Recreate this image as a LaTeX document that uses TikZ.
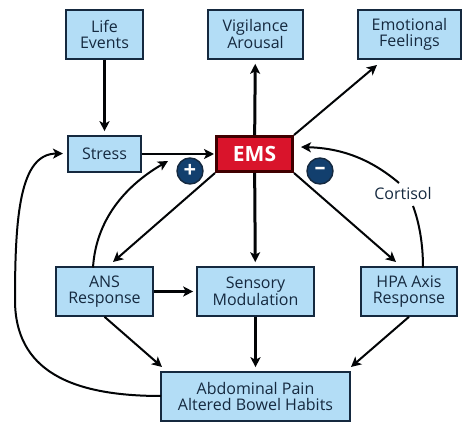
\documentclass[tikz,border=0pt]{standalone}
\usepackage{fontspec}
\setmainfont{Open Sans}
\usetikzlibrary{arrows.meta,calc}
\definecolor{boxblue}{HTML}{B3DDF6}
\definecolor{inkblue}{HTML}{15293F}
\definecolor{emsred}{HTML}{D9142B}
\definecolor{signblue}{HTML}{123F6E}
\tikzset{
  infobox/.style={draw=inkblue,line width=1.6pt,fill=boxblue,text=inkblue,align=center,inner sep=0pt,font=\fontsize{16}{15.5}\selectfont},
  arrowline/.style={draw=black!90!inkblue,line width=2pt,-{Stealth[length=10pt,width=10pt,inset=2.5pt]}},
  thickarrow/.style={arrowline,line width=3pt},
  plainline/.style={draw=black!90!inkblue,line width=2pt},
  signdot/.style={circle,draw=inkblue,line width=1.4pt,fill=signblue,text=white,minimum size=26pt,inner sep=0pt,font=\bfseries\fontsize{22}{22}\selectfont},
}
\begin{document}
\begin{tikzpicture}[x=1pt,y=-1pt]
\useasboundingbox (0,0) rectangle (474,438);
\node[infobox,minimum width=77pt,minimum height=49pt] (life) at (104.5,34.5) {Life\\Events};
\node[infobox,minimum width=95pt,minimum height=49pt] (vig) at (255.5,34.5) {Vigilance\\Arousal};
\node[infobox,minimum width=103pt,minimum height=49pt] (emo) at (409.5,34.5) {Emotional\\Feelings};
\node[infobox,minimum width=73pt,minimum height=36pt] (stress) at (104.5,154) {Stress};
\node[draw=black!75!red,line width=3pt,fill=emsred,text=white,minimum width=76pt,minimum height=35pt,inner sep=0pt,font=\bfseries\fontsize{21}{21}\selectfont] (ems) at (254.5,154) {EMS};
\node[infobox,minimum width=97pt,minimum height=49pt] (ans) at (104.5,291.5) {ANS\\Response};
\node[infobox,minimum width=117pt,minimum height=49pt] (sens) at (255.5,291.5) {Sensory\\Modulation};
\node[infobox,minimum width=96pt,minimum height=49pt] (hpa) at (409,291.5) {HPA Axis\\Response};
\node[infobox,minimum width=189pt,minimum height=49pt] (abd) at (255.5,396.5) {Abdominal Pain\\Altered Bowel Habits};
\node[signdot] (plus) at (190,171) {+};
\node[signdot] (minus) at (320,171) {–};
\node[text=inkblue,inner sep=0pt,font=\fontsize{16}{15.5}\selectfont] (cort) at (403,194) {Cortisol};
\coordinate (emoend) at (377,65);
\coordinate (ansend) at (113,262);
\coordinate (hpaend) at (396,262);
\coordinate (ansfb) at (168,161);
\coordinate (ansstart) at (93,267.5);
\coordinate (hpastart) at (423,267.5);
\coordinate (cortin) at (413,206);
\coordinate (cortout) at (399,183);
\coordinate (emsfb) at (301,147);
\coordinate (abdstart) at (161,396);
\coordinate (stressin) at (63,153.5);
\coordinate (abdnw) at (162,367);
\coordinate (abdne) at (351,367);
\draw[thickarrow,shorten >=4pt] (life) -- (stress);
\draw[arrowline,shorten >=1pt] (stress) -- (ems);
\draw[thickarrow,shorten >=4pt] (ems) -- (vig);
\draw[arrowline] (ems.north east) -- (emoend);
\draw[arrowline,{Stealth[length=10pt,width=10pt,inset=2.5pt]}-] (ansend) -- (ems.south west);
\draw[thickarrow,shorten >=4pt] (ems) -- (sens);
\draw[arrowline] (ems.south east) -- (hpaend);
\draw[thickarrow,shorten >=3pt] (ans) -- (sens);
\draw[arrowline] (ans.south) -- (abdnw);
\draw[thickarrow,shorten >=4pt] (sens) -- (abd);
\draw[arrowline] (hpa.south) -- (abdne);
\draw[arrowline] (ansstart) .. controls (96,220) and (125,186) .. (ansfb);
\draw[plainline] (hpastart) .. controls (423,243) and (419,222) .. (cortin);
\draw[arrowline] (cortout) .. controls (366,155) and (335,148) .. (emsfb);
\draw[arrowline] (abdstart) .. controls (70,396) and (15,370) .. (15,300) .. controls (15,215) and (20,154) .. (stressin);
\end{tikzpicture}
\end{document}
